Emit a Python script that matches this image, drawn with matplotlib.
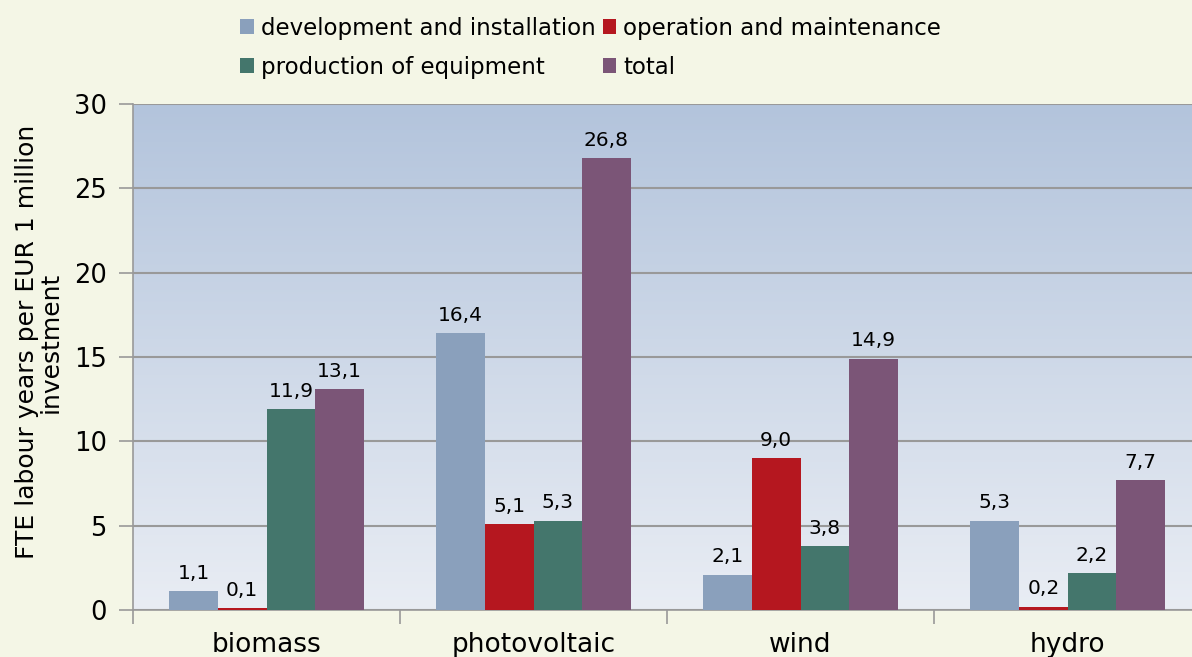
import matplotlib.pyplot as plt
import numpy as np
from matplotlib.colors import LinearSegmentedColormap

categories = ["biomass", "photovoltaic", "wind", "hydro"]
series = ["development and installation", "operation and maintenance",
          "production of equipment", "total"]
dev = [1.1, 16.4, 2.1, 5.3]
ops = [0.1, 5.1, 9.0, 0.2]
prod = [11.9, 5.3, 3.8, 2.2]
total = [13.1, 26.8, 14.9, 7.7]
values = [dev, ops, prod, total]
colors = ["#8AA0BC", "#B5171F", "#44766C", "#7B5577"]

fig = plt.figure(figsize=(11.92, 6.57), dpi=100, facecolor="#F4F6E6")
ax = fig.add_axes([0.1116, 0.0715, 0.896, 0.770])

# gradient background of the plot area
cmap = LinearSegmentedColormap.from_list("bg", ["#E9EDF4", "#B3C4DC"])
grad = np.linspace(0, 1, 256).reshape(-1, 1)
ax.imshow(grad, cmap=cmap, aspect="auto", origin="lower",
          extent=[0, 1, 0, 1], transform=ax.transAxes, zorder=0)

x = np.arange(len(categories))
width = 0.182
bars_all = []
for i, (name, vals) in enumerate(zip(series, values)):
    bars = ax.bar(x + (i - 1.5) * width, vals, width=width, color=colors[i],
                  label=name, zorder=3)
    bars_all.append(bars)

for bars, vals in zip(bars_all, values):
    labels = [f"{v:.1f}".replace(".", ",") for v in vals]
    ax.bar_label(bars, labels=labels, padding=6, fontsize=14.5, zorder=4)

ax.set_xlim(-0.5, 3.5)
ax.set_ylim(0, 30)
ax.set_yticks(range(0, 31, 5))
ax.yaxis.grid(True, color="#999999", linewidth=1.5, zorder=1)
ax.set_axisbelow(False)

ax.set_xticks(x)
ax.set_xticklabels(categories, fontsize=19)
ax.tick_params(axis="x", length=0, pad=16)
ax.set_xticks(np.arange(-0.5, 3.5, 1), minor=True)
ax.tick_params(axis="x", which="minor", length=10, color="#999999", width=1.2)
ax.tick_params(axis="y", labelsize=18.5, length=10, color="#999999", width=1.2, pad=9)

for side in ["top", "right"]:
    ax.spines[side].set_visible(False)
for side in ["left", "bottom"]:
    ax.spines[side].set_color("#999999")
    ax.spines[side].set_linewidth(1.2)

ax.set_ylabel("FTE labour years per EUR 1 million\ninvestment", fontsize=18,
              labelpad=8, linespacing=0.95)
ax.yaxis.label.set_y(0.53)

# legend filled row by row, as in the original
handles, labels = ax.get_legend_handles_labels()
order = [0, 2, 1, 3]
fig.legend([handles[k] for k in order], [labels[k] for k in order],
           loc="upper left", bbox_to_anchor=(0.191, 0.994), ncol=2,
           frameon=False, fontsize=16.5, handlelength=0.6, handleheight=0.6,
           handletextpad=0.3, columnspacing=0.3, labelspacing=0.7,
           borderaxespad=0.15)

fig.savefig("out.png", dpi=100, facecolor=fig.get_facecolor())
